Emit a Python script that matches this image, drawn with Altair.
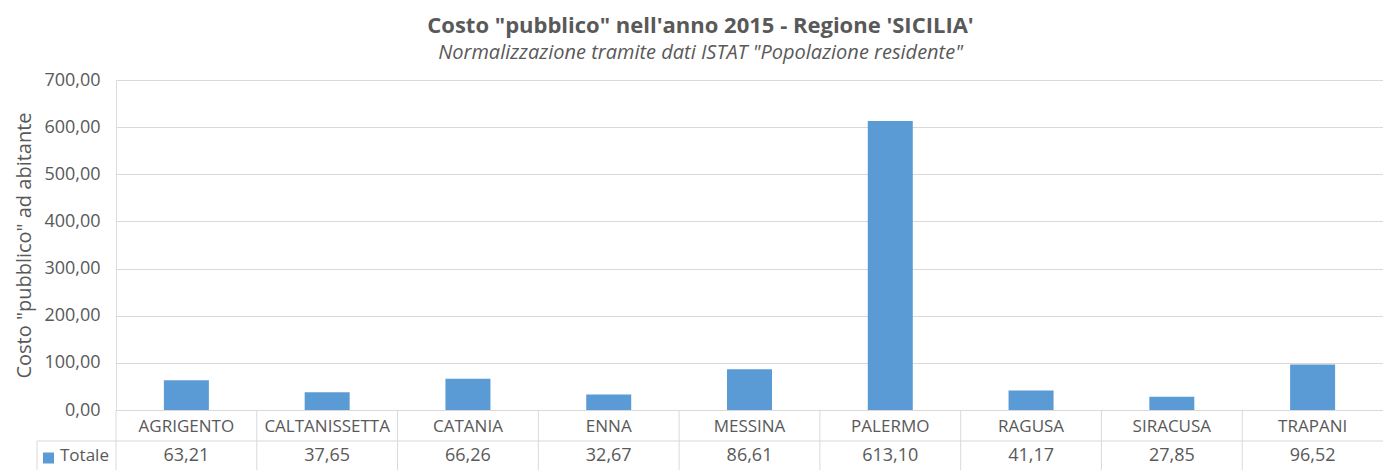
import altair as alt
import pandas as pd

# ---- data ----
province = ["AGRIGENTO", "CALTANISSETTA", "CATANIA", "ENNA", "MESSINA",
            "PALERMO", "RAGUSA", "SIRACUSA", "TRAPANI"]
totale = [63.21, 37.65, 66.26, 32.67, 86.61, 613.10, 41.17, 27.85, 96.52]
y_ticks = [0, 100, 200, 300, 400, 500, 600, 700]
series_name = ["Totale"]

df = pd.DataFrame({"Provincia": province, "Totale": totale})
df["label"] = [f"{v:.2f}".replace(".", ",") for v in totale]

FONT = "Open Sans"
TXT = "#595959"
GRID = "#D9D9D9"
BLUE = "#5B9BD5"
W, H = 1267, 330

x_enc = alt.X("Provincia:N", sort=province,
              scale=alt.Scale(paddingInner=0, paddingOuter=0), axis=None)

base = alt.Chart(df)

bars = base.mark_bar(size=45, color=BLUE).encode(
    x=x_enc,
    y=alt.Y("Totale:Q",
            scale=alt.Scale(domain=[0, 700], nice=False),
            axis=alt.Axis(values=y_ticks, grid=True, gridColor=GRID,
                          domain=False, ticks=False, tickSize=0,
                          labelPadding=16, labelFontSize=18, labelColor=TXT,
                          labelFont=FONT,
                          labelExpr="replace(format(datum.value, '.2f'), '.', ',')",
                          title='Costo "pubblico" ad abitante',
                          titleFont=FONT, titleFontSize=20, titleFontWeight="normal",
                          titleColor=TXT, titleAngle=-90, titleX=-92, titleY=H / 2,
                          titleAlign="center", titleBaseline="middle")),
)

# data table under the plot
vlines = base.mark_rule(color=GRID, strokeWidth=1).encode(
    x=alt.X("Provincia:N", sort=province, bandPosition=0,
            scale=alt.Scale(paddingInner=0, paddingOuter=0), axis=None),
    y=alt.value(H), y2=alt.value(H + 64),
)

names = base.mark_text(fontSize=17, color=TXT, font=FONT, baseline="middle").encode(
    x=x_enc, y=alt.value(H + 17), text="Provincia:N")

values_txt = base.mark_text(fontSize=18, color=TXT, font=FONT, baseline="middle").encode(
    x=x_enc, y=alt.value(H + 46), text="label:N")

sdf = pd.DataFrame({"serie": series_name})
leg = alt.Chart(sdf)

hline = leg.mark_rule(color=GRID, strokeWidth=1).encode(
    x=alt.value(-79), x2=alt.value(W), y=alt.value(H + 31))
lline = leg.mark_rule(color=GRID, strokeWidth=1).encode(
    x=alt.value(-79), y=alt.value(H + 31), y2=alt.value(H + 64))
square = leg.mark_square(size=121, color=BLUE, opacity=1).encode(
    x=alt.value(-67.5), y=alt.value(H + 48))
serie_txt = leg.mark_text(fontSize=17, color=TXT, font=FONT, align="left",
                          baseline="middle").encode(
    x=alt.value(-56), y=alt.value(H + 46), text="serie:N")

chart = alt.layer(bars, vlines, hline, lline, names, values_txt, square, serie_txt).properties(
    width=W, height=H,
    title=alt.Title(
        text='Costo "pubblico" nell\'anno 2015 - Regione \'SICILIA\'',
        subtitle='Normalizzazione tramite dati ISTAT "Popolazione residente"',
        font=FONT, fontSize=22, fontWeight="bold", color=TXT,
        subtitleFont=FONT, subtitleFontSize=20, subtitleFontStyle="italic",
        subtitleColor=TXT, anchor="middle", dx=-49, offset=7, subtitlePadding=5),
    autosize=alt.AutoSizeParams(type="none"),
    padding={"left": 108, "top": 72, "right": 0, "bottom": 62},
).configure_view(stroke=None).configure(font=FONT)

chart.save("out.html", embed_options={"renderer": "svg", "actions": False})
